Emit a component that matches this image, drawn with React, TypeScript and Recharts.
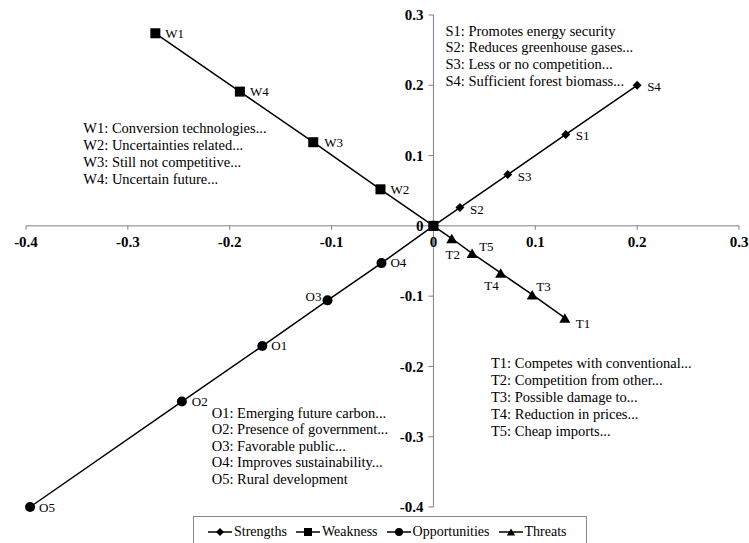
import React from 'react';
import { ScatterChart, Scatter, XAxis, YAxis, ReferenceLine, ReferenceDot, Legend } from 'recharts';

// ---- data ----
const strengthLabels = ['S1', 'S2', 'S3', 'S4'];
const strengthX = [0.13, 0.026, 0.073, 0.2];
const strengthY = [0.13, 0.026, 0.073, 0.2];

const weaknessLabels = ['W1', 'W2', 'W3', 'W4'];
const weaknessX = [-0.273, -0.052, -0.118, -0.19];
const weaknessY = [0.274, 0.052, 0.119, 0.191];

const opportunityLabels = ['O1', 'O2', 'O3', 'O4', 'O5'];
const opportunityX = [-0.168, -0.247, -0.104, -0.051, -0.396];
const opportunityY = [-0.171, -0.25, -0.106, -0.053, -0.4];

const threatLabels = ['T1', 'T2', 'T3', 'T4', 'T5'];
const threatX = [0.129, 0.018, 0.097, 0.066, 0.038];
const threatY = [-0.131, -0.018, -0.098, -0.067, -0.039];

const xTicks = [-0.4, -0.3, -0.2, -0.1, 0, 0.1, 0.2, 0.3];
const yTicks = [-0.4, -0.3, -0.2, -0.1, 0, 0.1, 0.2, 0.3];
const xTickLabels = ['-0.4', '-0.3', '-0.2', '-0.1', '0', '0.1', '0.2', '0.3'];
const yTickLabels = ['-0.4', '-0.3', '-0.2', '-0.1', '0', '0.1', '0.2', '0.3'];

const seriesNames = ['Strengths', 'Weakness', 'Opportunities', 'Threats'];

const strengthNotes = [
  'S1: Promotes energy security',
  'S2: Reduces greenhouse gases...',
  'S3: Less or no competition...',
  'S4: Sufficient forest biomass...',
];
const weaknessNotes = [
  'W1: Conversion technologies...',
  'W2: Uncertainties related...',
  'W3: Still not competitive...',
  'W4: Uncertain future...',
];
const opportunityNotes = [
  'O1: Emerging future carbon...',
  'O2: Presence of government...',
  'O3: Favorable public...',
  'O4: Improves sustainability...',
  'O5: Rural development',
];
const threatNotes = [
  'T1: Competes with conventional...',
  'T2: Competition from other...',
  'T3: Possible damage to...',
  'T4: Reduction in prices...',
  'T5: Cheap imports...',
];

// ---- build tables ----
type Pt = { name: string; x: number; y: number };
function build(labels: string[], xs: number[], ys: number[]): Pt[] {
  const pts: Pt[] = [{ name: '', x: 0, y: 0 }];
  labels.forEach((n, i) => pts.push({ name: n, x: xs[i], y: ys[i] }));
  return pts.sort((a, b) => a.x - b.x);
}
const strengths = build(strengthLabels, strengthX, strengthY);
const weakness = build(weaknessLabels, weaknessX, weaknessY);
const opportunities = build(opportunityLabels, opportunityX, opportunityY);
const threats = build(threatLabels, threatX, threatY);

// ---- styles ----
const FONT = '"Liberation Serif", "Times New Roman", serif';
const AXIS = '#808080';

const labelPlace: Record<string, { dx: number; dy: number; anchor: 'start' | 'middle' | 'end' }> = {
  S1: { dx: 10, dy: 6, anchor: 'start' },
  S2: { dx: 10, dy: 6.5, anchor: 'start' },
  S3: { dx: 10, dy: 6, anchor: 'start' },
  S4: { dx: 10, dy: 6, anchor: 'start' },
  W1: { dx: 10, dy: 4.3, anchor: 'start' },
  W2: { dx: 10, dy: 4.3, anchor: 'start' },
  W3: { dx: 11, dy: 4.3, anchor: 'start' },
  W4: { dx: 10, dy: 4.3, anchor: 'start' },
  O1: { dx: 9, dy: 4.3, anchor: 'start' },
  O2: { dx: 10, dy: 4.3, anchor: 'start' },
  O3: { dx: -6, dy: 0.3, anchor: 'end' },
  O4: { dx: 9, dy: 4.3, anchor: 'start' },
  O5: { dx: 9, dy: 5, anchor: 'start' },
  T1: { dx: 11, dy: 10.3, anchor: 'start' },
  T2: { dx: 1, dy: 20.3, anchor: 'middle' },
  T3: { dx: 4, dy: -3.3, anchor: 'start' },
  T4: { dx: -2, dy: 16.7, anchor: 'end' },
  T5: { dx: 7, dy: -2.3, anchor: 'start' },
};

type Kind = 'diamond' | 'square' | 'circle' | 'triangle';

function Marker({ kind, cx, cy, s }: { kind: Kind; cx: number; cy: number; s: number }) {
  if (kind === 'diamond') {
    const h = s * 0.5;
    return <polygon points={`${cx},${cy - h} ${cx + h},${cy} ${cx},${cy + h} ${cx - h},${cy}`} fill="#000" />;
  }
  if (kind === 'square') {
    return <rect x={cx - s / 2} y={cy - s / 2} width={s} height={s} fill="#000" />;
  }
  if (kind === 'circle') {
    return <circle cx={cx} cy={cy} r={s / 2} fill="#000" />;
  }
  const w = s * 1.05;
  const h = s * 0.9;
  return <polygon points={`${cx},${cy - h / 2} ${cx + w / 2},${cy + h / 2} ${cx - w / 2},${cy + h / 2}`} fill="#000" />;
}

const markerSize: Record<Kind, number> = { diamond: 9, square: 10, circle: 10, triangle: 10.5 };

function makeShape(kind: Kind) {
  return (props: any) => {
    const { cx, cy, payload } = props;
    const name: string = payload?.name ?? '';
    const p = labelPlace[name];
    return (
      <g>
        <Marker kind={kind} cx={cx} cy={cy} s={markerSize[kind]} />
        {name && p ? (
          <text x={cx + p.dx} y={cy + p.dy} textAnchor={p.anchor} fontFamily={FONT} fontSize={13} fill="#000">
            {name}
          </text>
        ) : null}
      </g>
    );
  };
}

const XTick = (label: string) => (props: any) => {
  const { cx, cy } = props;
  return (
    <g>
      <line x1={cx} y1={cy} x2={cx} y2={cy + 4} stroke={AXIS} strokeWidth={1} />
      <text x={cx} y={cy + 21} textAnchor="middle" fontFamily={FONT} fontWeight="bold" fontSize={15} fill="#000">
        {label}
      </text>
    </g>
  );
};

const YTick = (label: string) => (props: any) => {
  const { cx, cy } = props;
  return (
    <g>
      <line x1={cx - 5} y1={cy} x2={cx} y2={cy} stroke={AXIS} strokeWidth={1} />
      <text x={cx - 10} y={cy + 5.1} textAnchor="end" fontFamily={FONT} fontWeight="bold" fontSize={15} fill="#000">
        {label}
      </text>
    </g>
  );
};

const kinds: Kind[] = ['diamond', 'square', 'circle', 'triangle'];

function LegendBox() {
  return (
    <div
      style={{
        boxSizing: 'border-box',
        width: 394,
        height: 31,
        border: '1px solid #8a8a8a',
        background: '#fff',
        display: 'flex',
        alignItems: 'center',
        paddingLeft: 14,
        fontFamily: FONT,
        fontSize: 14,
        color: '#000',
      }}
    >
      {seriesNames.map((n, i) => (
        <div key={n} style={{ display: 'flex', alignItems: 'center', marginRight: 9 }}>
          <svg width={24} height={12} style={{ display: 'block' }}>
            <line x1={0} y1={6} x2={24} y2={6} stroke="#000" strokeWidth={1.5} />
            <Marker kind={kinds[i]} cx={12} cy={6} s={8} />
          </svg>
          <span style={{ marginLeft: 2, lineHeight: '16px' }}>{n}</span>
        </div>
      ))}
    </div>
  );
}

function Notes({ lines, left, top, lh }: { lines: string[]; left: number; top: number; lh: number }) {
  return (
    <div
      style={{
        position: 'absolute',
        left,
        top,
        fontFamily: FONT,
        fontSize: 14.5,
        lineHeight: `${lh}px`,
        color: '#000',
        whiteSpace: 'nowrap',
        pointerEvents: 'none',
      }}
    >
      {lines.map((l) => (
        <div key={l}>{l}</div>
      ))}
    </div>
  );
}

export default function App() {
  const line = { stroke: '#000', strokeWidth: 1.5 };
  return (
    <div style={{ position: 'absolute', left: 0, top: 0, width: 749, height: 543, overflow: 'hidden', background: '#fff' }}>
      <ScatterChart width={749} height={543} margin={{ top: 15, right: 10, bottom: 36, left: 26 }}>
        <XAxis type="number" dataKey="x" domain={[-0.4, 0.3]} ticks={xTicks} hide />
        <YAxis type="number" dataKey="y" domain={[-0.4, 0.3]} ticks={yTicks} hide />
        <ReferenceLine y={0} stroke={AXIS} strokeWidth={1} ifOverflow="visible" />
        <ReferenceLine x={0} stroke={AXIS} strokeWidth={1} ifOverflow="visible" />
        {xTicks.map((t, i) => (
          <ReferenceDot key={`xt${i}`} x={t} y={0} r={0} ifOverflow="visible" shape={XTick(xTickLabels[i])} />
        ))}
        {yTicks.map((t, i) => (
          <ReferenceDot key={`yt${i}`} x={0} y={t} r={0} ifOverflow="visible" shape={YTick(yTickLabels[i])} />
        ))}
        <Scatter name="Strengths" data={strengths} fill="#000" line={line} shape={makeShape('diamond')} isAnimationActive={false} />
        <Scatter name="Opportunities" data={opportunities} fill="#000" line={line} shape={makeShape('circle')} isAnimationActive={false} />
        <Scatter name="Threats" data={threats} fill="#000" line={line} shape={makeShape('triangle')} isAnimationActive={false} />
        <Scatter name="Weakness" data={weakness} fill="#000" line={line} shape={makeShape('square')} isAnimationActive={false} />
        <Legend
          layout="horizontal"
          verticalAlign="middle"
          align="center"
          content={() => <LegendBox />}
          wrapperStyle={{ left: 193, top: 516, width: 394, height: 31 }}
        />
      </ScatterChart>
      <Notes lines={strengthNotes} left={445.5} top={22.5} lh={16.7} />
      <Notes lines={weaknessNotes} left={83.3} top={119.5} lh={17.3} />
      <Notes lines={opportunityNotes} left={211.7} top={404.9} lh={16.5} />
      <Notes lines={threatNotes} left={491} top={354.9} lh={17.1} />
    </div>
  );
}
